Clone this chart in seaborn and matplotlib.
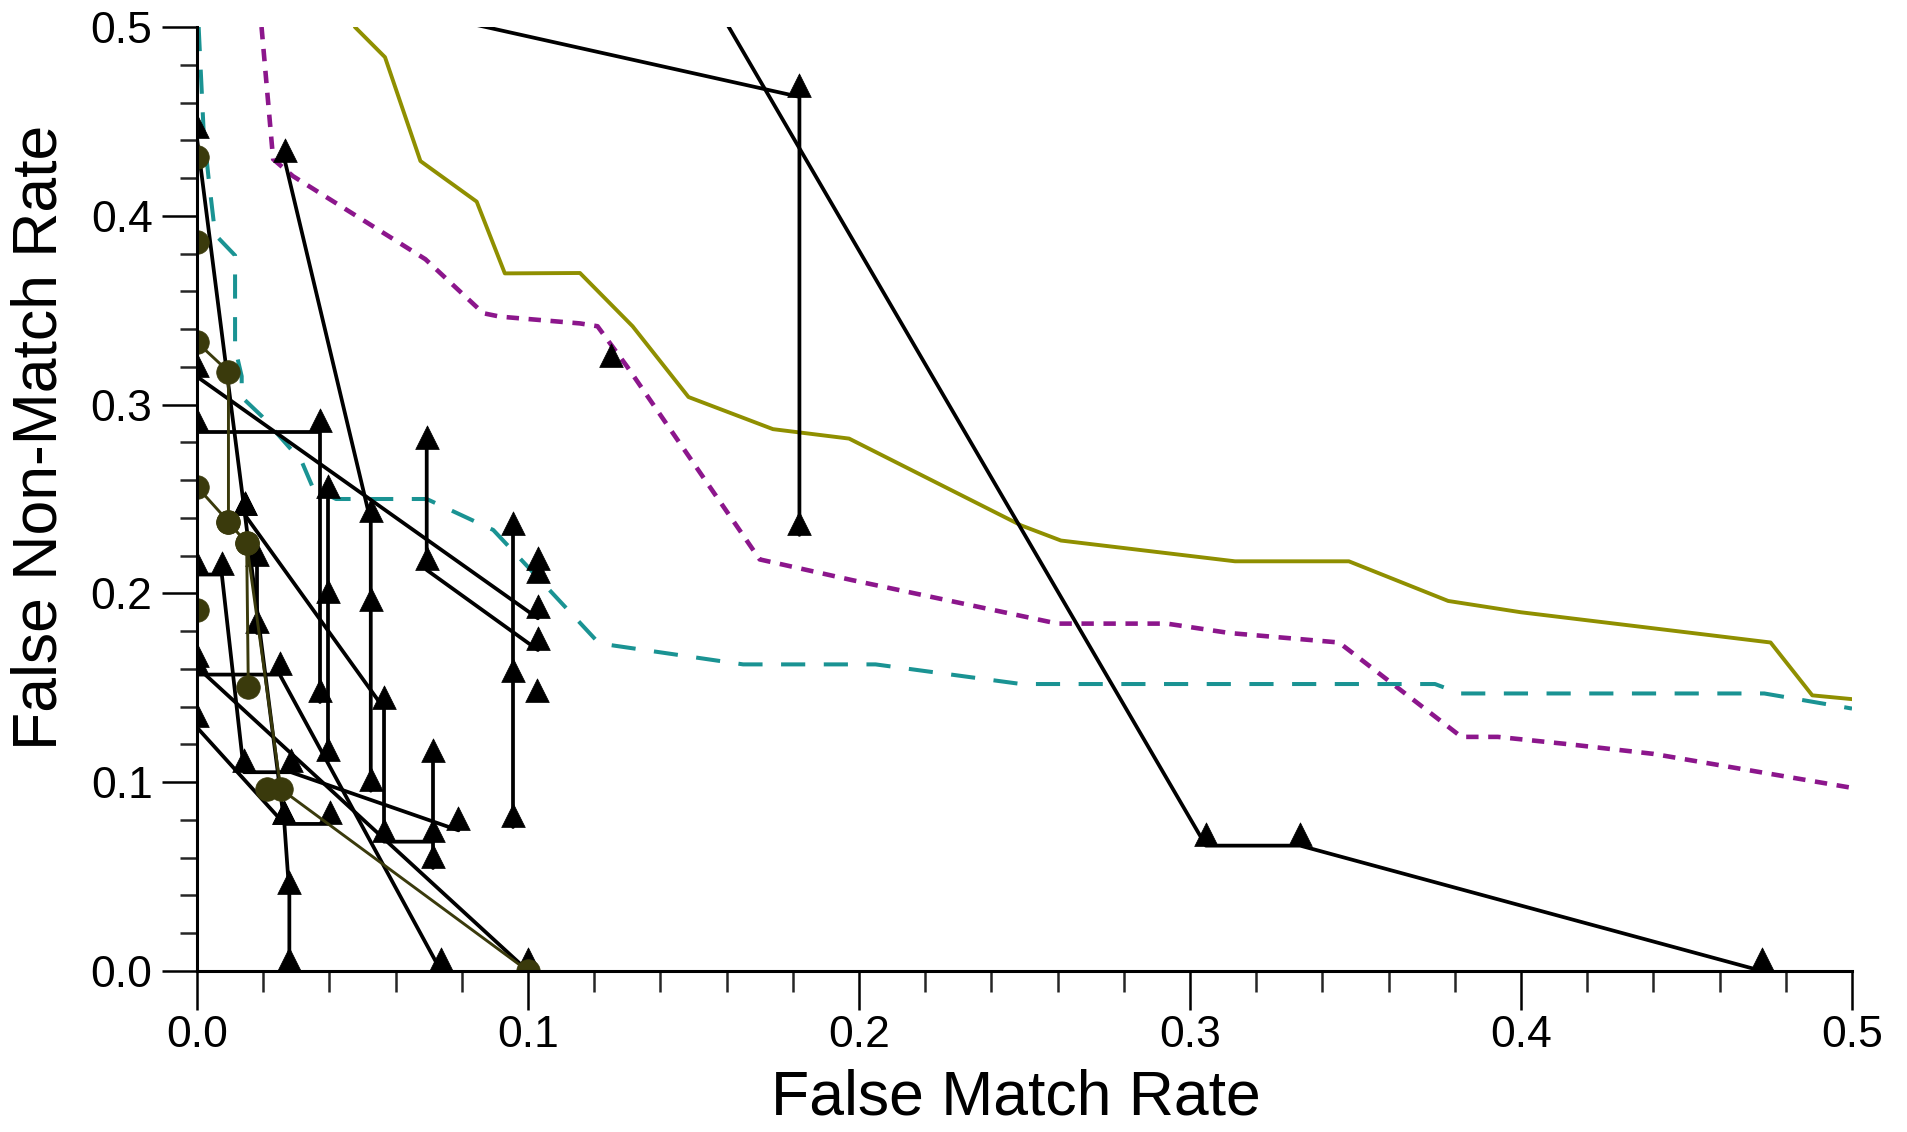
import numpy as np
import pandas as pd
import matplotlib
matplotlib.use("Agg")
import matplotlib.pyplot as plt
import seaborn as sns
from matplotlib.path import Path
from matplotlib.ticker import MultipleLocator, FormatStrFormatter

# ---------------- data ----------------
# olive solid curve
olive_x = [0.0477, 0.0568, 0.0675, 0.0845, 0.093, 0.1157, 0.1316, 0.1485, 0.174, 0.197,
           0.249, 0.261, 0.3136, 0.348, 0.378, 0.40, 0.4754, 0.488, 0.5]
olive_y = [0.5, 0.484, 0.429, 0.4075, 0.3695, 0.3697, 0.3415, 0.304, 0.287, 0.282,
           0.236, 0.228, 0.217, 0.217, 0.196, 0.19, 0.174, 0.146, 0.144]

# purple dotted curve
purple_x = [0.0195, 0.023, 0.029, 0.069, 0.0865, 0.0915, 0.1157, 0.121, 0.13, 0.17, 0.198,
            0.26, 0.293, 0.312, 0.345, 0.382, 0.393, 0.415, 0.44, 0.5]
purple_y = [0.5, 0.43, 0.421, 0.377, 0.3484, 0.3466, 0.343, 0.3415, 0.32, 0.218, 0.207,
            0.184, 0.184, 0.179, 0.174, 0.124, 0.124, 0.120, 0.115, 0.097]

# teal dashed curve
teal_x = [0.0005, 0.002, 0.0035, 0.0055, 0.0115, 0.0115, 0.0135, 0.0135, 0.0195, 0.0316,
          0.035, 0.042, 0.0694, 0.0895, 0.1, 0.1215, 0.165, 0.205, 0.249, 0.374, 0.3816,
          0.4735, 0.5]
teal_y = [0.5, 0.445, 0.42, 0.39, 0.379, 0.33, 0.315, 0.304, 0.294, 0.27,
          0.256, 0.25, 0.25, 0.2336, 0.214, 0.1735, 0.1624, 0.1624, 0.152, 0.152, 0.147,
          0.147, 0.139]

# black triangle curves
curve_a_x = [0.036, 0.182, 0.182]
curve_a_y = [0.52, 0.463, 0.231]
curve_b_x = [0.154, 0.3048, 0.3333, 0.4728]
curve_b_y = [0.52, 0.0664, 0.0664, 0.0]
curve_c_x = [0.0, 0.103]
curve_c_y = [0.3148, 0.1868]
curve_d_x = [0.0694, 0.0694, 0.103]
curve_d_y = [0.2765, 0.2124, 0.170]
curve_e_x = [0.0, 0.0372, 0.0372]
curve_e_y = [0.2857, 0.2857, 0.1427]
curve_f_x = [0.0397, 0.0397, 0.0397]
curve_f_y = [0.2503, 0.1949, 0.111]
curve_g_x = [0.0956, 0.0956, 0.0956]
curve_g_y = [0.2309, 0.1532, 0.0764]
curve_h_x = [0.0266, 0.0525, 0.0525, 0.0525]
curve_h_y = [0.4287, 0.238, 0.1906, 0.0955]
curve_i_x = [0.0145, 0.0565, 0.0565, 0.0714]
curve_i_y = [0.2415, 0.139, 0.0685, 0.0685]
curve_j_x = [0.0714, 0.0714]
curve_j_y = [0.1109, 0.0544]
curve_k_x = [0.0, 0.0075, 0.0142, 0.0284, 0.079]
curve_k_y = [0.21, 0.21, 0.1053, 0.1053, 0.0745]
curve_l_x = [0.0182, 0.0182]
curve_l_y = [0.2145, 0.179]
curve_m_x = [0.0, 0.0264, 0.0401]
curve_m_y = [0.129, 0.0779, 0.0779]
curve_n_x = [0.0, 0.0145, 0.0264, 0.0279, 0.0279]
curve_n_y = [0.441, 0.2415, 0.0779, 0.0407, 0.0]
curve_o_x = [0.0, 0.025, 0.0737]
curve_o_y = [0.157, 0.157, 0.0]
curve_p_x = [0.0, 0.1]
curve_p_y = [0.161, 0.0]
single_tri_x = [0.103, 0.103, 0.1026, 0.125]
single_tri_y = [0.2124, 0.2053, 0.1427, 0.32]

# dark olive circle curves
dark_a_x = [0.0, 0.0095, 0.0095]
dark_a_y = [0.333, 0.3175, 0.238]
dark_b_x = [0.0, 0.0095, 0.015, 0.0155]
dark_b_y = [0.2565, 0.238, 0.2265, 0.1506]
dark_c_x = [0.015, 0.0253, 0.1]
dark_c_y = [0.2265, 0.0964, 0.0]
single_dot_x = [0.0, 0.0, 0.0, 0.0212]
single_dot_y = [0.431, 0.386, 0.1912, 0.0964]

x_ticks = [0.0, 0.1, 0.2, 0.3, 0.4, 0.5]
y_ticks = [0.0, 0.1, 0.2, 0.3, 0.4, 0.5]
x_label = "False Match Rate"
y_label = "False Non-Match Rate"

# ---------------- tables ----------------
black_curves = {
    "a": (curve_a_x, curve_a_y), "b": (curve_b_x, curve_b_y), "c": (curve_c_x, curve_c_y),
    "d": (curve_d_x, curve_d_y), "e": (curve_e_x, curve_e_y), "f": (curve_f_x, curve_f_y),
    "g": (curve_g_x, curve_g_y), "h": (curve_h_x, curve_h_y), "i": (curve_i_x, curve_i_y),
    "j": (curve_j_x, curve_j_y), "k": (curve_k_x, curve_k_y), "l": (curve_l_x, curve_l_y),
    "m": (curve_m_x, curve_m_y), "n": (curve_n_x, curve_n_y), "o": (curve_o_x, curve_o_y),
    "p": (curve_p_x, curve_p_y),
}
for idx, (sx, sy) in enumerate(zip(single_tri_x, single_tri_y)):
    black_curves[f"s{idx}"] = ([sx], [sy])

dark_curves = {"a": (dark_a_x, dark_a_y), "b": (dark_b_x, dark_b_y), "c": (dark_c_x, dark_c_y)}
for idx, (sx, sy) in enumerate(zip(single_dot_x, single_dot_y)):
    dark_curves[f"s{idx}"] = ([sx], [sy])


def to_frame(curves):
    rows = []
    for name, (xs, ys) in curves.items():
        for x, y in zip(xs, ys):
            rows.append((name, x, y))
    return pd.DataFrame(rows, columns=["curve", "fmr", "fnmr"])


df_black = to_frame(black_curves)
df_dark = to_frame(dark_curves)

# ---------------- style ----------------
sns.set_theme(style="ticks")
plt.rcParams["font.family"] = ["Liberation Sans", "DejaVu Sans"]

OLIVE = "#8f8f00"
PURPLE = "#8c168c"
TEAL = "#1a9393"
DARK = "#3a3a0c"

# base-anchored triangle marker
TRI = Path([(-0.5, 0.0), (0.5, 0.0), (0.0, 1.0), (0.0, 0.0)],
           [Path.MOVETO, Path.LINETO, Path.LINETO, Path.CLOSEPOLY])

fig = plt.figure(figsize=(19.08, 11.32), dpi=100)
ax = fig.add_axes([197 / 1908, 1 - 971 / 1132, (1852 - 197) / 1908, (971 - 27) / 1132])

sns.lineplot(x=olive_x, y=olive_y, sort=False, estimator=None, color=OLIVE, lw=2.8, ax=ax)
sns.lineplot(x=purple_x, y=purple_y, sort=False, estimator=None, color=PURPLE, lw=3.3,
             linestyle=(0, (2.7, 2.1)), ax=ax)
sns.lineplot(x=teal_x, y=teal_y, sort=False, estimator=None, color=TEAL, lw=2.9,
             linestyle=(0, (6.0, 4.6)), ax=ax)

sns.lineplot(data=df_black, x="fmr", y="fnmr", units="curve", estimator=None, sort=False,
             color="black", lw=2.7, marker=TRI, markersize=34, markerfacecolor="black",
             markeredgecolor="black", markeredgewidth=0.5, legend=False, ax=ax)
sns.lineplot(data=df_dark, x="fmr", y="fnmr", units="curve", estimator=None, sort=False,
             color=DARK, lw=2.1, marker="o", markersize=17, markerfacecolor=DARK,
             markeredgecolor=DARK, markeredgewidth=0.5, legend=False, ax=ax)

ax.set_xlim(0, 0.5)
ax.set_ylim(0, 0.5)
ax.set_xticks(x_ticks)
ax.set_yticks(y_ticks)
ax.xaxis.set_minor_locator(MultipleLocator(0.02))
ax.yaxis.set_minor_locator(MultipleLocator(0.02))
ax.xaxis.set_major_formatter(FormatStrFormatter("%.1f"))
ax.yaxis.set_major_formatter(FormatStrFormatter("%.1f"))

ax.tick_params(axis="x", which="major", direction="out", length=28, width=1.8, pad=4,
               labelsize=32, colors="black")
ax.tick_params(axis="x", which="minor", direction="out", length=15, width=1.8)
ax.tick_params(axis="y", which="major", direction="out", length=25, width=1.8, pad=7,
               labelsize=32, colors="black")
ax.tick_params(axis="y", which="minor", direction="out", length=12, width=1.8)

sns.despine(ax=ax)
for side in ("left", "bottom"):
    ax.spines[side].set_linewidth(2.2)
    ax.spines[side].set_color("black")

ax.set_xlabel(x_label, fontsize=45, color="black")
ax.set_ylabel(y_label, fontsize=45, color="black")
ax.xaxis.set_label_coords(0.495, -0.103)
ax.yaxis.label.set_va("center")
ax.yaxis.set_label_coords(-0.095, 0.565)

fig.savefig("out.png", dpi=100, facecolor="white")
